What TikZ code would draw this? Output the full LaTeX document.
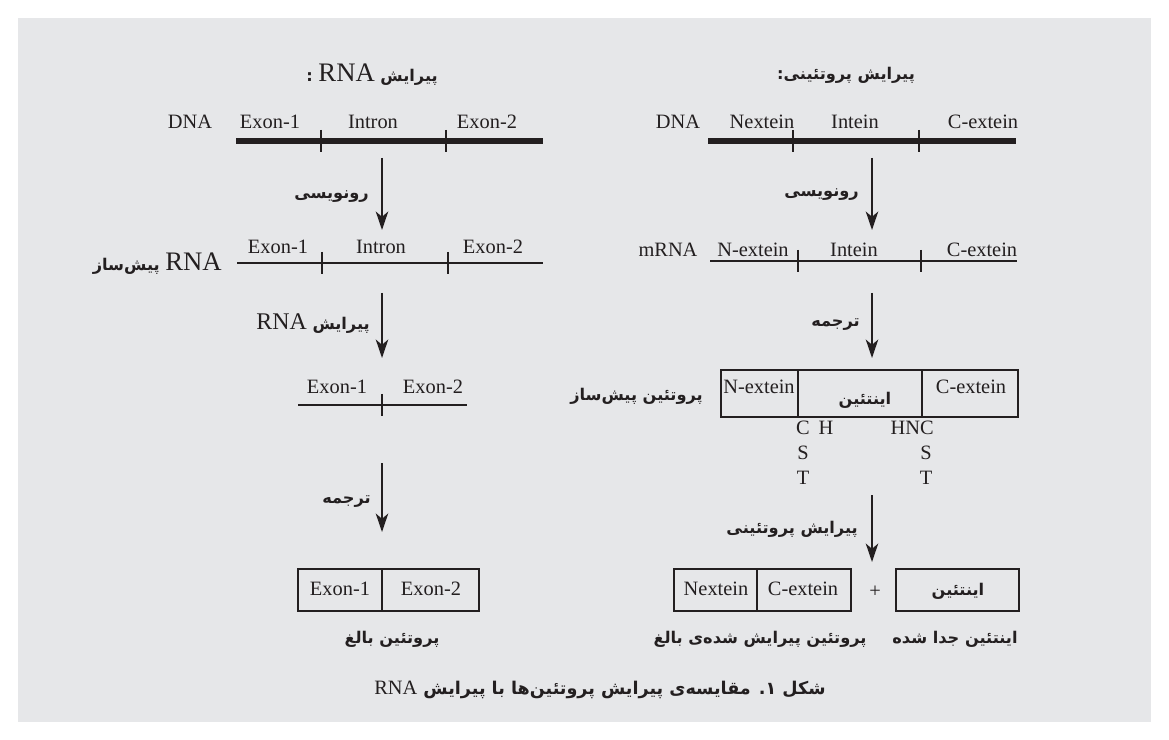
\documentclass[tikz,border=0pt]{standalone}
\usepackage{fontspec}
\setmainfont{Liberation Serif}
\newfontfamily\fa[Script=Arabic]{DejaVu Sans}
\TeXXeTstate=1
\usetikzlibrary{arrows.meta,positioning}
\tikzset{>={Stealth[length=4.6mm,width=3.1mm,inset=1.3mm]}}
\definecolor{panel}{HTML}{E6E7E9}
\definecolor{ink}{HTML}{231F20}
\newcommand\lat[2][14.5]{{\rmfamily\mdseries\fontsize{#1}{#1}\selectfont #2}}
\tikzset{
  lbl/.style={inner sep=0pt, text=ink, font=\fontsize{14.5}{17}\selectfont},
  falbl/.style={inner sep=0pt, text=ink, font=\fontsize{11.5}{13}\selectfont\fa\bfseries},
  flow/.style={->, draw=ink, line width=1.5pt},
  dnaline/.style={draw=ink, line width=4.2pt},
  rnaline/.style={draw=ink, line width=1.3pt},
  tickmark/.style={draw=ink, line width=1.3pt},
  boxline/.style={draw=ink, line width=1.4pt}
}

\begin{document}
\begin{tikzpicture}[x=0.025cm, y=-0.025cm]
\fill [white] (0,0) rectangle (1169,740);
\fill [panel] (18,18) rectangle (1151,722);
\useasboundingbox (0,0) rectangle (1169,740);

% RNA splicing (left)
\node [falbl] (ltitle) at (372,75) {\beginR پیرایش \lat[19]{RNA} :\endR};
\node [lbl] (ldna) at (190,122) {DNA};
\node [lbl] (lex1) at (270,122) {Exon-1};
\node [lbl] (lint) at (373,122) {Intron};
\node [lbl] (lex2) at (487,122) {Exon-2};
\coordinate (ld0) at (236,141);
\coordinate (ld1) at (321,141);
\coordinate (ld2) at (446,141);
\coordinate (ld3) at (543,141);
\draw [dnaline] (ld0) -- (ld3);

\coordinate (la1s) at (382,158);
\coordinate (la1e) at (382,230);
\draw [flow] (la1s) -- (la1e);
\node [falbl, anchor=east] (ltr) at (369,197) {\beginR رونویسی\endR};

\node [falbl, anchor=east] (lpre) at (222,264) {\beginR\lat[19]{RNA} پیش‌ساز\endR};
\node [lbl] (lrex1) at (278,247) {Exon-1};
\node [lbl] (lrint) at (381,247) {Intron};
\node [lbl] (lrex2) at (493,247) {Exon-2};
\coordinate (lr0) at (237,263);
\coordinate (lr1) at (322,263);
\coordinate (lr2) at (448,263);
\coordinate (lr3) at (543,263);
\draw [rnaline] (lr0) -- (lr3);

\coordinate (la2s) at (382,293);
\coordinate (la2e) at (382,358);
\draw [flow] (la2s) -- (la2e);
\node [falbl, anchor=east] (lspl) at (370,324) {\beginR پیرایش \lat[17]{RNA}\endR};

\node [lbl] (lsex1) at (337,387) {Exon-1};
\node [lbl] (lsex2) at (433,387) {Exon-2};
\coordinate (ls0) at (298,405);
\coordinate (ls1) at (382,405);
\coordinate (ls2) at (467,405);
\draw [rnaline] (ls0) -- (ls2);

\coordinate (la3s) at (382,463);
\coordinate (la3e) at (382,532);
\draw [flow] (la3s) -- (la3e);
\node [falbl, anchor=east] (ltl) at (371,502) {\beginR ترجمه\endR};

\draw [boxline] (298,569) rectangle (479,611);
\draw [boxline] (382,569) -- (382,611);
\node [lbl] (lpex1) at (340,589) {Exon-1};
\node [lbl] (lpex2) at (431,589) {Exon-2};
\node [falbl] (lmat) at (392,639) {\beginR پروتئین بالغ\endR};

% protein splicing (right)
\node [falbl] (rtitle) at (846,75) {\beginR پیرایش پروتئینی:\endR};
\node [lbl] (rdna) at (678,122) {DNA};
\node [lbl] (rnex) at (762,122) {Nextein};
\node [lbl] (rint) at (855,122) {Intein};
\node [lbl] (rcex) at (983,122) {C-extein};
\coordinate (rd0) at (708,141);
\coordinate (rd1) at (793,141);
\coordinate (rd2) at (919,141);
\coordinate (rd3) at (1016,141);
\draw [dnaline] (rd0) -- (rd3);

\coordinate (ra1s) at (872,158);
\coordinate (ra1e) at (872,230);
\draw [flow] (ra1s) -- (ra1e);
\node [falbl, anchor=east] (rtr) at (859,195) {\beginR رونویسی\endR};

\node [lbl] (rmrna) at (668,250) {mRNA};
\node [lbl] (rmnex) at (753,250) {N-extein};
\node [lbl] (rmint) at (854,250) {Intein};
\node [lbl] (rmcex) at (982,250) {C-extein};
\coordinate (rm0) at (710,261);
\coordinate (rm1) at (798,261);
\coordinate (rm2) at (921,261);
\coordinate (rm3) at (1017,261);
\draw [rnaline] (rm0) -- (rm3);

\coordinate (ra2s) at (872,293);
\coordinate (ra2e) at (872,358);
\draw [flow] (ra2s) -- (ra2e);
\node [falbl, anchor=east] (rtl) at (860,325) {\beginR ترجمه\endR};

\draw [boxline] (721,370) rectangle (1018,417);
\draw [boxline] (798,370) -- (798,417);
\draw [boxline] (922,370) -- (922,417);
\node [lbl] (rpnex) at (759,387) {N-extein};
\node [falbl] (rpint) at (865,400) {\beginR اینتئین\endR};
\node [lbl] (rpcex) at (971,387) {C-extein};
\node [falbl, anchor=east] (rpre) at (703,396) {\beginR پروتئین پیش‌ساز\endR};

\node [lbl] (rc1) at (803,428) {C};
\node [lbl] (rh1) at (826,428) {H};
\node [lbl, anchor=east] (rhnc) at (934,428) {HNC};
\node [lbl] (rs1) at (803,453) {S};
\node [lbl] (rs2) at (926,453) {S};
\node [lbl] (rt1) at (803,478) {T};
\node [lbl] (rt2) at (926,478) {T};

\coordinate (ra3s) at (872,495);
\coordinate (ra3e) at (872,562);
\draw [flow] (ra3s) -- (ra3e);
\node [falbl, anchor=east] (rps) at (858,529) {\beginR پیرایش پروتئینی\endR};

\draw [boxline] (674,569) rectangle (851,611);
\draw [boxline] (757,569) -- (757,611);
\node [lbl] (rfnex) at (716,589) {Nextein};
\node [lbl] (rfcex) at (803,589) {C-extein};
\node [lbl] (rplus) at (875,592) {+};
\draw [boxline] (896,569) rectangle (1019,611);
\node [falbl] (rfint) at (958,591) {\beginR اینتئین\endR};
\node [falbl] (rmat) at (760,639) {\beginR پروتئین پیرایش شده‌ی بالغ\endR};
\node [falbl] (rcut) at (955,639) {\beginR اینتئین جدا شده\endR};

% caption
\node [falbl, font=\fontsize{12.5}{14}\selectfont\fa\bfseries] (cap) at (600,690) {\beginR شکل ۱. مقایسه‌ی پیرایش پروتئین‌ها با پیرایش \lat{RNA}\endR};

\foreach \t in {ld1,ld2,lr1,lr2,ls1,rd1,rd2,rm1,rm2}
  \draw [tickmark] (\t) ++(0,-11) -- ++(0,22);
\end{tikzpicture}
\end{document}
